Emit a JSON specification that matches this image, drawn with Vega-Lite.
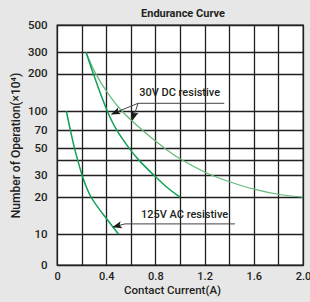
{
 "$schema": "https://vega.github.io/schema/vega-lite/v6.json",
 "width": 246,
 "height": 240,
 "autosize": {"type": "none"},
 "padding": {"left": 57, "top": 25, "right": 7, "bottom": 37},
 "background": "#e7e7e7",
 "title": {"text": "Endurance Curve", "font": "Roboto", "fontSize": 11, "fontWeight": "bold", "color": "#231f20", "offset": 0, "dx": 3},
 "config": {"view": {"fill": "white", "stroke": "#231f20", "strokeWidth": 1.3}, "font": "Roboto"},
 "datasets": {
  "curves": [
   {"s": "ac", "x": 0.076, "y": 100}, {"s": "ac", "x": 0.108, "y": 70}, {"s": "ac", "x": 0.141, "y": 50}, {"s": "ac", "x": 0.168, "y": 40}, {"s": "ac", "x": 0.203, "y": 30}, {"s": "ac", "x": 0.265, "y": 20}, {"s": "ac", "x": 0.39, "y": 13.9}, {"s": "ac", "x": 0.5, "y": 10},
   {"s": "dc1", "x": 0.236, "y": 300}, {"s": "dc1", "x": 0.295, "y": 200}, {"s": "dc1", "x": 0.404, "y": 100}, {"s": "dc1", "x": 0.48, "y": 70}, {"s": "dc1", "x": 0.585, "y": 50}, {"s": "dc1", "x": 0.66, "y": 40}, {"s": "dc1", "x": 0.79, "y": 30}, {"s": "dc1", "x": 0.9, "y": 23.5}, {"s": "dc1", "x": 1.0, "y": 20},
   {"s": "dc2", "x": 0.236, "y": 300}, {"s": "dc2", "x": 0.31, "y": 200}, {"s": "dc2", "x": 0.42, "y": 135}, {"s": "dc2", "x": 0.52, "y": 100}, {"s": "dc2", "x": 0.675, "y": 72.5}, {"s": "dc2", "x": 0.756, "y": 62}, {"s": "dc2", "x": 0.89, "y": 48.5}, {"s": "dc2", "x": 1.0, "y": 40.6}, {"s": "dc2", "x": 1.217, "y": 31}, {"s": "dc2", "x": 1.407, "y": 26.5}, {"s": "dc2", "x": 1.61, "y": 22.9}, {"s": "dc2", "x": 1.813, "y": 20.8}, {"s": "dc2", "x": 2.0, "y": 20}
  ],
  "leaders": [
   {"x": 0.659, "y": 115.6, "x2": 1.36, "y2": 115.6},
   {"x": 0.659, "y": 115.6, "x2": 0.445, "y2": 94.6},
   {"x": 0.659, "y": 115.6, "x2": 0.615, "y2": 85},
   {"x": 0.553, "y": 12.12, "x2": 1.447, "y2": 12.12},
   {"x": 0.553, "y": 12.12, "x2": 0.458, "y2": 11.46}
  ],
  "heads": [
   {"x": 0.475, "y": 97.4, "a": 247.3},
   {"x": 0.624, "y": 91.2, "a": 198.1},
   {"x": 0.489, "y": 11.68, "a": 255.6}
  ],
  "notes": [
   {"x": 0.997, "y": 139.5, "t": "30V DC resistive"},
   {"x": 1.037, "y": 14.4, "t": "125V AC resistive"}
  ]
 },
 "encoding": {
  "x": {"field": "x", "type": "quantitative", "scale": {"domain": [0, 2], "nice": false, "zero": false},
   "axis": {"title": "Contact Current(A)", "values": [0, 0.2, 0.4, 0.6, 0.8, 1.0, 1.2, 1.4, 1.6, 1.8, 2.0],
    "labelExpr": "datum.value == 0 ? '0' : (round(datum.value * 10) % 4 == 0 ? format(datum.value, '.1f') : '')",
    "grid": true, "gridColor": "#231f20", "gridWidth": 1.3, "ticks": false, "domain": false, "labelOverlap": false, "labelFlush": false,
    "labelPadding": 5, "labelFont": "Roboto", "labelFontSize": 11, "labelFontWeight": 500, "labelColor": "#231f20",
    "titleFont": "Roboto", "titleFontSize": 11.5, "titleFontWeight": 500, "titleColor": "#231f20", "titlePadding": 3, "titleX": 115}},
  "y": {"field": "y", "type": "quantitative", "scale": {"type": "log", "domain": [5.62, 500], "nice": false},
   "axis": {"title": "Number of Operation(×10⁴)", "values": [5.62, 10, 20, 30, 40, 50, 70, 100, 200, 300, 500],
    "labelExpr": "datum.value < 6 ? '0' : (datum.value == 40 ? '' : format(datum.value, 'd'))",
    "grid": true, "gridColor": "#231f20", "gridWidth": 1.3, "ticks": false, "domain": false, "labelOverlap": false,
    "labelPadding": 10, "labelFont": "Roboto", "labelFontSize": 11.5, "labelFontWeight": 500, "labelColor": "#231f20",
    "titleFont": "Roboto", "titleFontSize": 12, "titleFontWeight": 500, "titleColor": "#231f20", "titlePadding": 5}}
 },
 "layer": [
  {"data": {"name": "curves"}, "transform": [{"filter": "datum.s == 'dc2'"}], "mark": {"type": "line", "interpolate": "basis", "color": "#63b97b", "strokeWidth": 1.2}},
  {"data": {"name": "curves"}, "transform": [{"filter": "datum.s == 'dc1'"}], "mark": {"type": "line", "interpolate": "basis", "color": "#0fa154", "strokeWidth": 1.5}},
  {"data": {"name": "curves"}, "transform": [{"filter": "datum.s == 'ac'"}], "mark": {"type": "line", "interpolate": "basis", "color": "#0fa154", "strokeWidth": 1.5}},
  {"data": {"name": "leaders"}, "mark": {"type": "rule", "color": "#444444", "strokeWidth": 1}, "encoding": {"x2": {"field": "x2"}, "y2": {"field": "y2"}}},
  {"data": {"name": "heads"}, "mark": {"type": "point", "shape": "M0,-1L0.7,0.9L0,0.5L-0.7,0.9Z", "filled": true, "color": "#1a1a1a", "opacity": 1, "size": 100}, "encoding": {"angle": {"field": "a", "type": "quantitative", "scale": null}}},
  {"data": {"name": "notes"}, "mark": {"type": "text", "font": "Roboto", "fontSize": 11, "fontWeight": 500, "color": "#231f20", "align": "center", "baseline": "middle"}, "encoding": {"text": {"field": "t"}}}
 ]
}
